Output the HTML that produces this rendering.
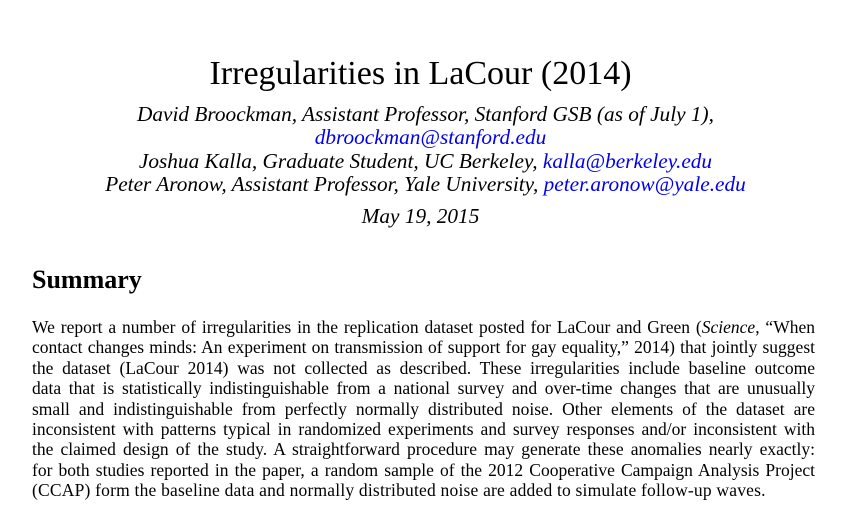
<!DOCTYPE html>
<html><head><meta charset="utf-8"><style>
body{margin:0;width:857px;height:524px;background:#fff;position:relative;overflow:hidden;font-family:"Liberation Serif",serif;color:#000}
.c{position:absolute;left:0;width:857px;text-align:center;white-space:nowrap}
.i{font-style:italic;font-size:21.3px;line-height:24px}
a{color:#0000ee;text-decoration:none}
.p{position:absolute;left:32px;width:783px;font-size:17.5px;line-height:20.4px;top:317px;text-align:justify}
.p div{text-align:justify;text-align-last:justify;white-space:nowrap}
.p div.l{text-align-last:left;letter-spacing:0.2px}
</style></head><body>
<div class="c" style="top:54px;font-size:34px;line-height:40px;left:-8px">Irregularities in LaCour (2014)</div>
<div class="c i" style="top:102px;left:-3px">David Broockman, Assistant Professor, Stanford GSB (as of July 1),</div>
<div class="c i" style="top:125px;left:2px"><a>dbroockman@stanford.edu</a></div>
<div class="c i" style="top:149px;left:-3px">Joshua Kalla, Graduate Student, UC Berkeley, <a>kalla@berkeley.edu</a></div>
<div class="c i" style="top:172px;left:-3px">Peter Aronow, Assistant Professor, Yale University, <a>peter.aronow@yale.edu</a></div>
<div class="c i" style="top:204px;left:-8px">May 19, 2015</div>
<div style="position:absolute;left:32px;top:265px;font-size:26px;line-height:30px;font-weight:bold">Summary</div>
<div class="p">
<div>We report a number of irregularities in the replication dataset posted for LaCour and Green (<i>Science</i>, “When</div>
<div>contact changes minds: An experiment on transmission of support for gay equality,” 2014) that jointly suggest</div>
<div>the dataset (LaCour 2014) was not collected as described. These irregularities include baseline outcome</div>
<div>data that is statistically indistinguishable from a national survey and over-time changes that are unusually</div>
<div>small and indistinguishable from perfectly normally distributed noise. Other elements of the dataset are</div>
<div>inconsistent with patterns typical in randomized experiments and survey responses and/or inconsistent with</div>
<div>the claimed design of the study. A straightforward procedure may generate these anomalies nearly exactly:</div>
<div>for both studies reported in the paper, a random sample of the 2012 Cooperative Campaign Analysis Project</div>
<div class="l">(CCAP) form the baseline data and normally distributed noise are added to simulate follow-up waves.</div>
</div>
</body></html>
